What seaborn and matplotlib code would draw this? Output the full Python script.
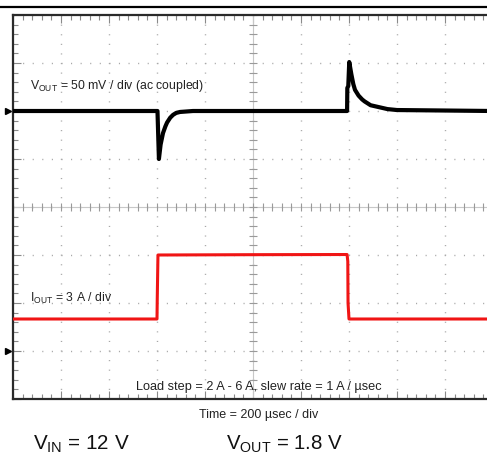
import matplotlib
matplotlib.use('Agg')
import matplotlib.pyplot as plt
from matplotlib.lines import Line2D
from matplotlib.ticker import MultipleLocator
import numpy as np
import pandas as pd
import seaborn as sns

# --- данные, снятые с осциллограммы ---
# время в мкс (200 мкс / дел), VOUT в мВ (50 мВ / дел), IOUT в А (3 А / дел)
vout_time = [0, 602, 608, 615, 625, 635, 642, 655, 667, 680, 696, 750,
             1392, 1393, 1397, 1401, 1410, 1418, 1425, 1440, 1455, 1465,
             1490, 1525, 1560, 1600, 2000]
vout_mv = [0, 0, -50, -35, -23, -16, -12, -7, -4, -2, -1, 0,
           0, 24, 26, 51, 38, 28, 22, 16, 12, 10,
           6, 4, 2, 1, 0]
iout_time = [0, 600, 601, 604, 1000, 1392, 1395, 1396, 1400, 2000]
iout_a = [2.0, 2.0, 3.2, 6.0, 6.02, 6.03, 5.6, 3.0, 2.0, 2.0]

VOUT_SCALE = 50.0   # мВ / дел
IOUT_SCALE = 3.0    # А / дел
VOUT_GND = 2        # маркер земли канала 1, дел
IOUT_GND = -3       # маркер земли канала 2, дел

W, H = 487, 466

sns.set_style('white')
plt.rcParams['font.family'] = ['Liberation Sans', 'DejaVu Sans']
plt.rcParams['mathtext.fontset'] = 'custom'
plt.rcParams['mathtext.rm'] = 'Liberation Sans'
plt.rcParams['mathtext.it'] = 'Liberation Sans'

df_v = pd.DataFrame({'t': vout_time, 'y': np.array(vout_mv) / VOUT_SCALE + VOUT_GND})
df_i = pd.DataFrame({'t': iout_time, 'y': np.array(iout_a) / IOUT_SCALE + IOUT_GND})

fig = plt.figure(figsize=(W / 100, H / 100), dpi=100)
# сетка 10 x 8 делений, правый край за пределами картинки
ax = fig.add_axes([13 / W, (H - 399) / H, 480 / W, 384 / H])

ax.set_xlim(0, 2000)
ax.set_ylim(-4, 4)
ax.xaxis.set_major_locator(MultipleLocator(200))
ax.xaxis.set_minor_locator(MultipleLocator(40))
ax.yaxis.set_major_locator(MultipleLocator(1))
ax.yaxis.set_minor_locator(MultipleLocator(0.2))
ax.tick_params(which='both', direction='in', top=True, bottom=True, left=True,
               right=False, labelbottom=False, labelleft=False, color='#8a8a8a')
ax.tick_params(which='major', length=6, width=0.8)
ax.tick_params(which='minor', length=3.5, width=0.8)

ax.grid(True, which='major', color='#a8a8a8', linewidth=1.0,
        linestyle=(0, (0.8, 6.1)))
for side in ['left', 'top', 'bottom']:
    ax.spines[side].set_color('#2a2a2a')
    ax.spines[side].set_linewidth(1.6)
ax.spines['right'].set_visible(False)

# центральные оси с поперечными рисками
ax.axhline(0, color='#c8c8c8', linewidth=0.8, zorder=1)
ax.axvline(1000, color='#c8c8c8', linewidth=0.8, zorder=1)
xm = np.arange(0, 2001, 40)
ym = np.arange(-4, 4.01, 0.2)
ax.plot(xm, np.zeros_like(xm), linestyle='none', marker='|', markersize=6,
        color='#9a9a9a', markeredgewidth=0.8, zorder=1)
ax.plot(np.full_like(ym, 1000), ym, linestyle='none', marker='_', markersize=6,
        color='#9a9a9a', markeredgewidth=0.8, zorder=1)

sns.lineplot(data=df_i, x='t', y='y', ax=ax, color='#f01515', linewidth=2.2,
             estimator=None, sort=False, zorder=3)
sns.lineplot(data=df_v, x='t', y='y', ax=ax, color='black', linewidth=3.0,
             estimator=None, sort=False, zorder=4)
ax.set_xlabel('')
ax.set_ylabel('')

# маркеры уровней земли слева
for g in [VOUT_GND, IOUT_GND]:
    ax.plot([-5 / 480], [g], marker='>', markersize=4, color='black',
            transform=ax.get_yaxis_transform(), clip_on=False)

# верхняя линия страницы
fig.add_artist(Line2D([0, 1], [1 - 7 / H, 1 - 7 / H], color='black',
                      linewidth=1.6, transform=fig.transFigure))

def ftext(px, py, s, size, **kw):
    fig.text(px / W, 1 - py / H, s, fontsize=size, va='baseline', **kw)

ftext(30, 89, r'$\mathrm{V_{OUT}}$ = 50 mV / div (ac coupled)', 8.8, color='#222222')
ftext(30, 302, r'$\mathrm{I_{OUT}}$ = 3 A / div', 8.8, color='#222222')
ftext(259, 390, 'Load step = 2 A - 6 A, slew rate = 1 A / µsec', 9.2,
      color='#222222', ha='center')
ftext(259, 418, 'Time = 200 µsec / div', 9.0, color='#222222', ha='center')
ftext(33, 450, r'$\mathrm{V_{IN}}$ = 12 V', 14.9, color='#111111')
ftext(226, 450, r'$\mathrm{V_{OUT}}$ = 1.8 V', 14.7, color='#111111')

fig.savefig('out.png', dpi=100)
